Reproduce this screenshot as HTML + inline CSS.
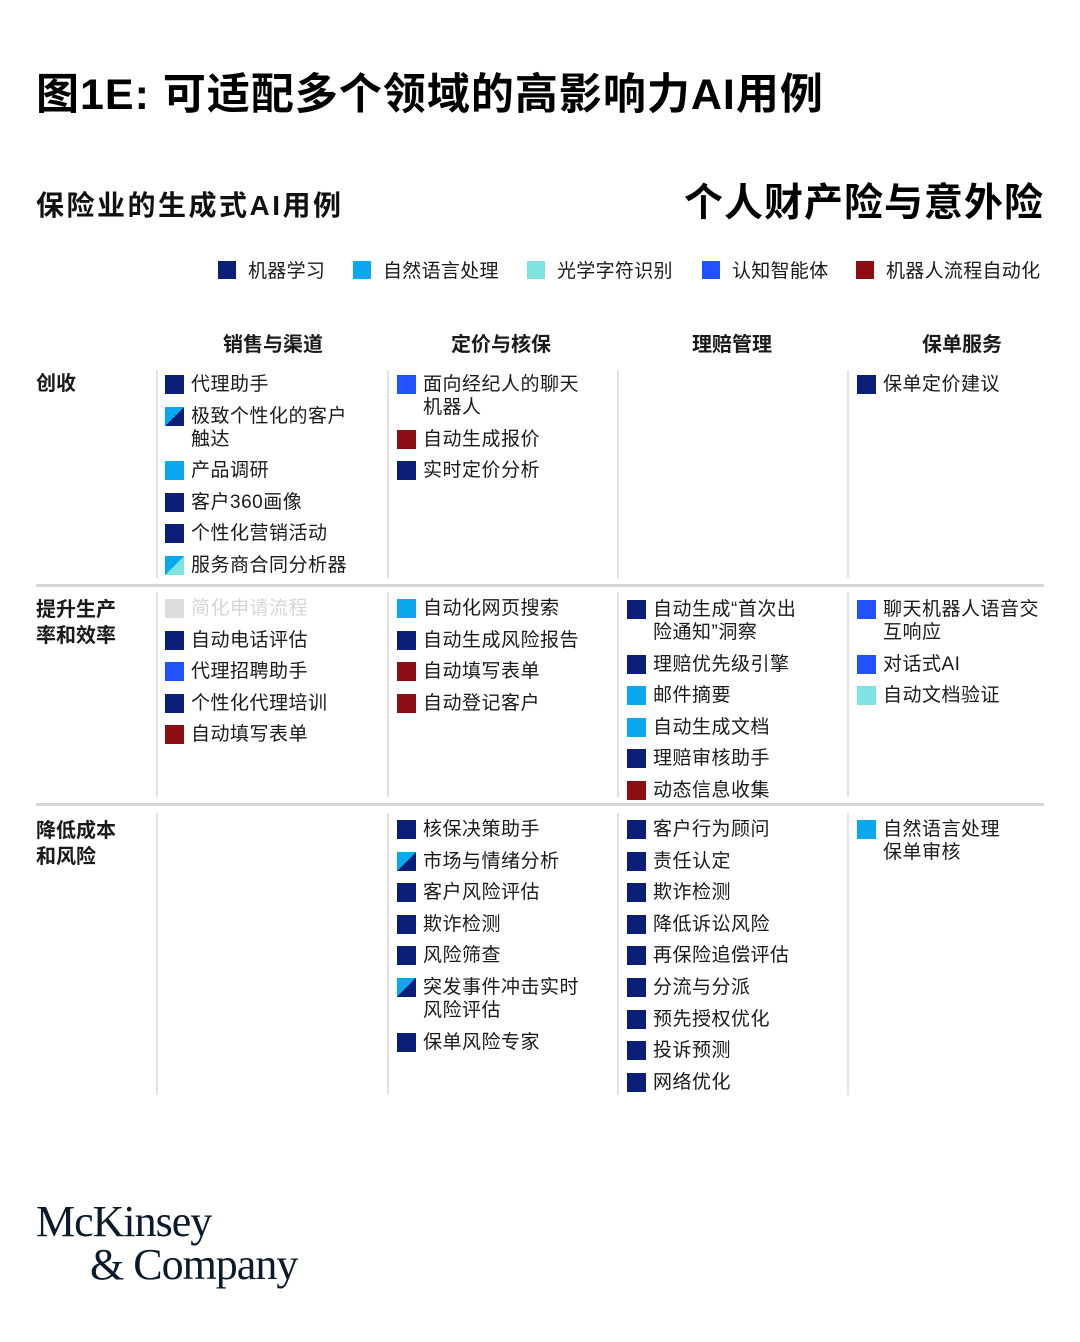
<!DOCTYPE html>
<html><head><meta charset="utf-8"><style>
*{margin:0;padding:0;box-sizing:border-box}
body{width:1080px;height:1342px;background:#fff;position:relative;font-family:"Liberation Sans","Noto Sans CJK SC",sans-serif;color:#1a1a1a;overflow:hidden}
.a{position:absolute;white-space:nowrap}
.t{left:36px;top:60px;font-size:43px;font-weight:bold;letter-spacing:1px;color:#000}
.st{left:36px;top:184px;font-size:28px;font-weight:bold;color:#111;letter-spacing:2.5px}
.rt{right:36px;top:172px;font-size:39px;font-weight:bold;color:#000;letter-spacing:1px}
.lg{top:259px;font-size:19px;line-height:26px;letter-spacing:0.3px}
.lg i{display:inline-block;width:18px;height:18px;vertical-align:-2px;margin-right:12px}
.ch{top:328px;font-size:20px;font-weight:bold;transform:translateX(-50%)}
.rl{left:36px;font-size:20px;font-weight:bold;line-height:26px}
.vl{position:absolute;width:2px;background:#e3e3e3}
.hl{position:absolute;left:36px;width:1008px;height:3px;background:#d6d6d6}
.col{position:absolute;font-size:19px;line-height:23px;width:220px;letter-spacing:0.5px}
.it{position:relative;padding-left:26px;margin-bottom:8.6px}
.it i{position:absolute;left:0;top:2px;width:19px;height:19px}
.n{background:#0b1e78}.l{background:#0ba8ef}.c{background:#7de2e0}.b{background:#2251ff}.r{background:#8c0d12}.g{background:#dcdcdc}
.nl{background:linear-gradient(to bottom right,#0ba8ef 50%,#0b1e78 50%)}
.lc{background:linear-gradient(to bottom right,#0ba8ef 50%,#7de2e0 50%)}
.gr{color:#d6d6d6}
.logo{font-family:"Liberation Serif",serif;color:#0a1a2a;font-size:44px;letter-spacing:-1px}
</style></head><body>
<div class="a t">图1E: 可适配多个领域的高影响力AI用例</div>
<div class="a st">保险业的生成式AI用例</div>
<div class="a rt">个人财产险与意外险</div>

<div class="a lg" style="left:218px"><i class="n"></i>机器学习</div>
<div class="a lg" style="left:353px"><i class="l"></i>自然语言处理</div>
<div class="a lg" style="left:527px"><i class="c"></i>光学字符识别</div>
<div class="a lg" style="left:702px"><i class="b"></i>认知智能体</div>
<div class="a lg" style="left:856px"><i class="r"></i>机器人流程自动化</div>

<div class="a ch" style="left:273px">销售与渠道</div>
<div class="a ch" style="left:501px">定价与核保</div>
<div class="a ch" style="left:732px">理赔管理</div>
<div class="a ch" style="left:962px">保单服务</div>

<div class="a rl" style="top:371px">创收</div>
<div class="a rl" style="top:597px">提升生产<br>率和效率</div>
<div class="a rl" style="top:818px">降低成本<br>和风险</div>

<div class="hl" style="top:584px"></div>
<div class="hl" style="top:803px"></div>

<div class="vl" style="left:156px;top:370px;height:208px"></div>
<div class="vl" style="left:387px;top:370px;height:208px"></div>
<div class="vl" style="left:617px;top:370px;height:208px"></div>
<div class="vl" style="left:847px;top:370px;height:208px"></div>
<div class="vl" style="left:156px;top:592px;height:205px"></div>
<div class="vl" style="left:387px;top:592px;height:205px"></div>
<div class="vl" style="left:617px;top:592px;height:205px"></div>
<div class="vl" style="left:847px;top:592px;height:205px"></div>
<div class="vl" style="left:156px;top:813px;height:282px"></div>
<div class="vl" style="left:387px;top:813px;height:282px"></div>
<div class="vl" style="left:617px;top:813px;height:282px"></div>
<div class="vl" style="left:847px;top:813px;height:282px"></div>

<div class="col" style="left:165px;top:373px">
<div class="it"><i class="n"></i>代理助手</div>
<div class="it"><i class="nl"></i>极致个性化的客户<br>触达</div>
<div class="it"><i class="l"></i>产品调研</div>
<div class="it"><i class="n"></i>客户360画像</div>
<div class="it"><i class="n"></i>个性化营销活动</div>
<div class="it"><i class="lc"></i>服务商合同分析器</div>
</div>
<div class="col" style="left:397px;top:373px">
<div class="it"><i class="b"></i>面向经纪人的聊天<br>机器人</div>
<div class="it"><i class="r"></i>自动生成报价</div>
<div class="it"><i class="n"></i>实时定价分析</div>
</div>
<div class="col" style="left:857px;top:373px">
<div class="it"><i class="n"></i>保单定价建议</div>
</div>

<div class="col" style="left:165px;top:597px">
<div class="it gr"><i class="g"></i>简化申请流程</div>
<div class="it"><i class="n"></i>自动电话评估</div>
<div class="it"><i class="b"></i>代理招聘助手</div>
<div class="it"><i class="n"></i>个性化代理培训</div>
<div class="it"><i class="r"></i>自动填写表单</div>
</div>
<div class="col" style="left:397px;top:597px">
<div class="it"><i class="l"></i>自动化网页搜索</div>
<div class="it"><i class="n"></i>自动生成风险报告</div>
<div class="it"><i class="r"></i>自动填写表单</div>
<div class="it"><i class="r"></i>自动登记客户</div>
</div>
<div class="col" style="left:627px;top:598px">
<div class="it"><i class="n"></i>自动生成“首次出<br>险通知”洞察</div>
<div class="it"><i class="n"></i>理赔优先级引擎</div>
<div class="it"><i class="l"></i>邮件摘要</div>
<div class="it"><i class="l"></i>自动生成文档</div>
<div class="it"><i class="n"></i>理赔审核助手</div>
<div class="it"><i class="r"></i>动态信息收集</div>
</div>
<div class="col" style="left:857px;top:598px">
<div class="it"><i class="b"></i>聊天机器人语音交<br>互响应</div>
<div class="it"><i class="b"></i>对话式AI</div>
<div class="it"><i class="c"></i>自动文档验证</div>
</div>

<div class="col" style="left:397px;top:818px">
<div class="it"><i class="n"></i>核保决策助手</div>
<div class="it"><i class="nl"></i>市场与情绪分析</div>
<div class="it"><i class="n"></i>客户风险评估</div>
<div class="it"><i class="n"></i>欺诈检测</div>
<div class="it"><i class="n"></i>风险筛查</div>
<div class="it"><i class="nl"></i>突发事件冲击实时<br>风险评估</div>
<div class="it"><i class="n"></i>保单风险专家</div>
</div>
<div class="col" style="left:627px;top:818px">
<div class="it"><i class="n"></i>客户行为顾问</div>
<div class="it"><i class="n"></i>责任认定</div>
<div class="it"><i class="n"></i>欺诈检测</div>
<div class="it"><i class="n"></i>降低诉讼风险</div>
<div class="it"><i class="n"></i>再保险追偿评估</div>
<div class="it"><i class="n"></i>分流与分派</div>
<div class="it"><i class="n"></i>预先授权优化</div>
<div class="it"><i class="n"></i>投诉预测</div>
<div class="it"><i class="n"></i>网络优化</div>
</div>
<div class="col" style="left:857px;top:818px">
<div class="it"><i class="l"></i>自然语言处理<br>保单审核</div>
</div>

<div class="a logo" style="left:36px;top:1196px">McKinsey</div>
<div class="a logo" style="left:90px;top:1239px">&amp; Company</div>
</body></html>
